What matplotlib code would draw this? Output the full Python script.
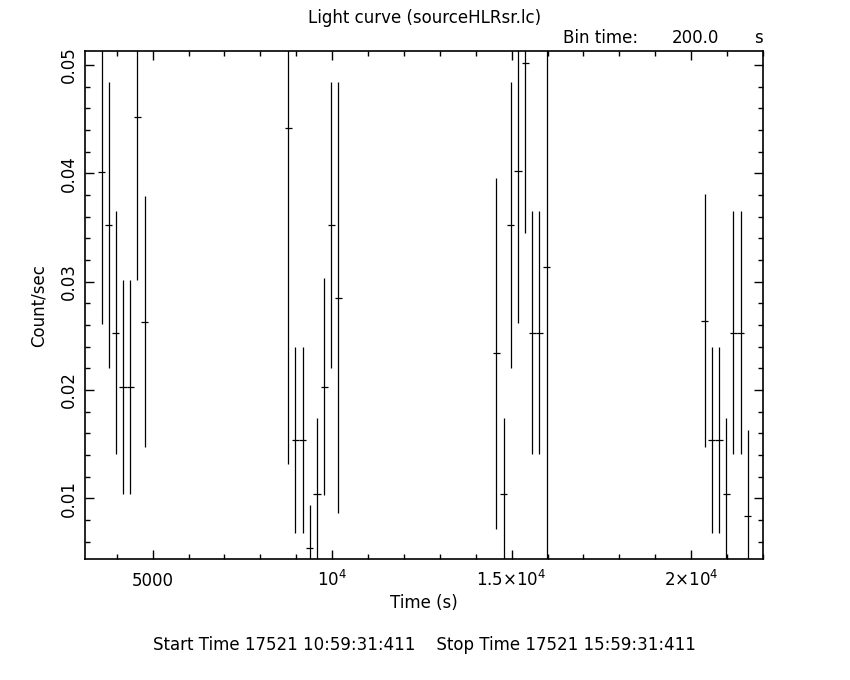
import matplotlib
matplotlib.use('Agg')
from matplotlib import pyplot as plt
from matplotlib.ticker import MultipleLocator, FixedLocator, FixedFormatter

# light curve bins (200 s each)
times = [3575, 3775, 3975, 4175, 4375, 4575, 4775,
         8775, 8975, 9175, 9375, 9575, 9775, 9975, 10175,
         14575, 14775, 14975, 15175, 15375, 15575, 15775, 15975,
         20375, 20575, 20775, 20975, 21175, 21375, 21575]
rates = [0.0401, 0.0352, 0.0253, 0.0203, 0.0203, 0.0452, 0.0263,
         0.0442, 0.0154, 0.0154, 0.0054, 0.0104, 0.0203, 0.0352, 0.0285,
         0.0234, 0.0104, 0.0352, 0.0402, 0.0502, 0.0253, 0.0253, 0.0314,
         0.0264, 0.0154, 0.0154, 0.0104, 0.0253, 0.0253, 0.0084]
errors = [0.0140, 0.0132, 0.0112, 0.0099, 0.0099, 0.0150, 0.0116,
          0.0310, 0.0086, 0.0086, 0.0040, 0.0070, 0.0100, 0.0132, 0.0199,
          0.0162, 0.0070, 0.0132, 0.0140, 0.0157, 0.0112, 0.0112, 0.0300,
          0.0117, 0.0086, 0.0086, 0.0070, 0.0112, 0.0112, 0.0079]
half_bin = 100

xticks = [5000, 10000, 15000, 20000]
xtick_labels = ['5000', '10$^4$', '1.5×10$^4$', '2×10$^4$']
yticks = [0.01, 0.02, 0.03, 0.04, 0.05]
ytick_labels = ['0.01', '0.02', '0.03', '0.04', '0.05']

title = 'Light curve (sourceHLRsr.lc)'
footer = 'Start Time 17521 10:59:31:411    Stop Time 17521 15:59:31:411'

plt.rcParams['mathtext.default'] = 'regular'
plt.rcParams['font.size'] = 12

fig = plt.figure(figsize=(8.5, 6.8), dpi=100)
ax = fig.add_axes([0.1, 0.1775, 0.7976, 0.7475])

ax.errorbar(times, rates, yerr=errors, xerr=half_bin, fmt='none',
            ecolor='black', elinewidth=0.9, capsize=0)

ax.set_xlim(3115, 22000)
ax.set_ylim(0.00437, 0.0513)

ax.xaxis.set_major_locator(FixedLocator(xticks))
ax.xaxis.set_major_formatter(FixedFormatter(xtick_labels))
ax.xaxis.set_minor_locator(MultipleLocator(1000))
ax.yaxis.set_major_locator(FixedLocator(yticks))
ax.yaxis.set_major_formatter(FixedFormatter(ytick_labels))
ax.yaxis.set_minor_locator(MultipleLocator(0.002))

ax.tick_params(which='both', direction='in', top=True, right=True, width=1.0)
ax.tick_params(which='major', length=6.5)
ax.tick_params(which='minor', length=3.6)
ax.tick_params(axis='x', which='major', pad=19)
ax.tick_params(axis='y', which='major', pad=5)
plt.setp(ax.get_xticklabels(), va='baseline')
plt.setp(ax.get_yticklabels(), rotation=90, va='center')
for s in ax.spines.values():
    s.set_linewidth(1.2)

ax.set_xlabel('Time (s)', labelpad=3)
ax.set_ylabel('Count/sec', labelpad=9)

fig.text(0.499, 0.973, title, ha='center', va='center')
fig.text(0.662, 0.944, 'Bin time:', ha='left', va='center')
fig.text(0.818, 0.944, '200.0', ha='center', va='center')
fig.text(0.898, 0.944, 's', ha='right', va='center')
fig.text(0.499, 0.052, footer, ha='center', va='center')

fig.savefig('out.png', dpi=100)
